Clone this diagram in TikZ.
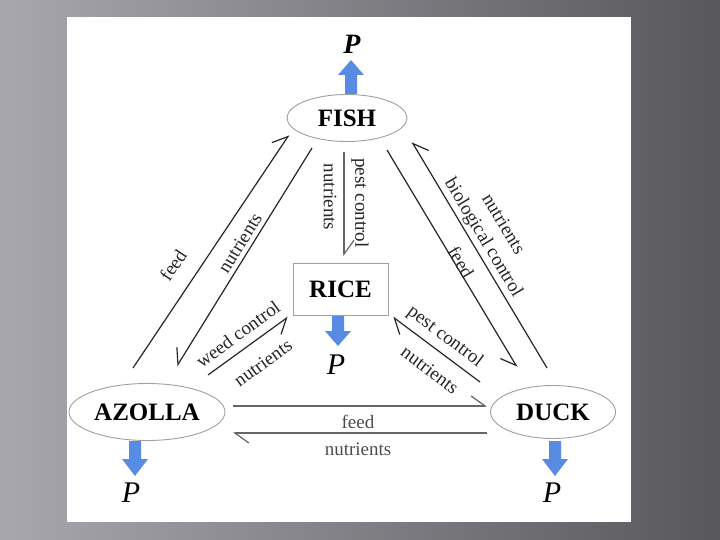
\documentclass[tikz,border=0pt]{standalone}
\usepackage{fontspec}
\setmainfont{Liberation Serif}
\usetikzlibrary{shapes.geometric, arrows.meta}
\definecolor{pblue}{RGB}{88,140,226}
\definecolor{bgleft}{RGB}{168,167,173}
\definecolor{bgright}{RGB}{88,87,92}
\newcommand\pdownarrow[4]{\fill[pblue] ({#1-6},#2) -- ({#1+6},#2) -- ({#1+6},#3) -- ({#1+13},#3) -- (#1,#4) -- ({#1-13},#3) -- ({#1-6},#3) -- cycle;}
\begin{document}
\begin{tikzpicture}[x=1pt, y=-1pt,
  ent/.style={draw=gray!75, line width=0.9pt, ellipse, font=\fontsize{25}{25}\selectfont\bfseries, inner sep=0pt},
  lbl/.style={font=\fontsize{19}{19}\selectfont, inner sep=0.5pt, text=black!85},
  conn/.style={draw=black!85, line width=1.2pt},
  hl/.style={conn, -{Straight Barb[left, length=14pt, width=20pt]}},
  hr/.style={conn, -{Straight Barb[right, length=14pt, width=20pt]}},
  pl/.style={font=\fontsize{30}{30}\selectfont\itshape, inner sep=0pt}]
% background
\shade[left color=bgleft, right color=bgright] (0,0) rectangle (720,540);
\fill[white] (67,17) rectangle (631,522);
\useasboundingbox (0,0) rectangle (720,540);

% entities
\node[ent, minimum width=120pt, minimum height=47pt] (fish) at (347,118) {FISH};
\node[ent, minimum width=156pt, minimum height=57pt] (azolla) at (147,412) {AZOLLA};
\node[ent, minimum width=125pt, minimum height=53pt] (duck) at (553,412) {DUCK};
\node[draw=gray!75, line width=0.9pt, minimum width=95pt, minimum height=52pt, inner sep=0pt,
      font=\fontsize{25}{25}\selectfont\bfseries] (rice) at (340.5,289) {RICE};

% P outputs
\fill[pblue] (345,94) -- (345,75) -- (338,75) -- (351,60) -- (364,75) -- (357,75) -- (357,94) -- cycle;
\node[pl, font=\fontsize{28}{28}\selectfont\bfseries\itshape] (pfish) at (352,44) {P};
\pdownarrow{338}{316}{331}{346}
\node[pl] (price) at (336,365) {P};
\pdownarrow{135}{441}{459}{476}
\node[pl] (pazolla) at (131,493) {P};
\pdownarrow{555}{441}{459}{476}
\node[pl] (pduck) at (552,493) {P};

% connector end points
\coordinate (af1) at (133,368); \coordinate (af2) at (289,135);
\coordinate (fa1) at (312,148); \coordinate (fa2) at (177,366);
\coordinate (df1) at (547,368); \coordinate (df2) at (412,142);
\coordinate (fd1) at (387,150); \coordinate (fd2) at (517,367);
\coordinate (fr1) at (344,152); \coordinate (fr2) at (344,256);
\coordinate (ar1) at (208,375); \coordinate (ar2) at (288,317);
\coordinate (dr1) at (480,382); \coordinate (dr2) at (393,317);
\coordinate (ad1) at (233,406); \coordinate (ad2) at (487,406);
\coordinate (da1) at (487,433); \coordinate (da2) at (233,433);

% connectors
\draw[hl] (af1) -- (af2);
\draw[hr] (fa1) -- (fa2);
\draw[hr] (df1) -- (df2);
\draw[hr] (fd1) -- (fd2);
\draw[hl, draw=black!60] (fr1) -- (fr2);
\draw[hr] (ar1) -- (ar2);
\draw[hl] (dr1) -- (dr2);
\draw[hl, draw=black!60] (ad1) -- (ad2);
\draw[hl, draw=black!60] (da1) -- (da2);

% labels
\node[lbl, rotate=56] (l1) at (173,265) {feed};
\node[lbl, rotate=58] (l2) at (240,243) {nutrients};
\node[lbl, rotate=-59] (l3) at (504,224) {nutrients};
\node[lbl, rotate=-59] (l4) at (483,238) {biological control};
\node[lbl, rotate=-59] (l5) at (461,262) {feed};
\node[lbl, rotate=-90] (l6) at (360,203) {pest control};
\node[lbl, rotate=-90] (l7) at (330,197) {nutrients};
\node[lbl, rotate=36] (l8) at (238,334) {weed control};
\node[lbl, rotate=36] (l9) at (263,363) {nutrients};
\node[lbl, rotate=-37] (l10) at (445,337) {pest control};
\node[lbl, rotate=-37] (l11) at (430,370) {nutrients};
\node[lbl, text=black!70] (l12) at (358,422) {feed};
\node[lbl, text=black!70] (l13) at (358,449) {nutrients};
\end{tikzpicture}
\end{document}
